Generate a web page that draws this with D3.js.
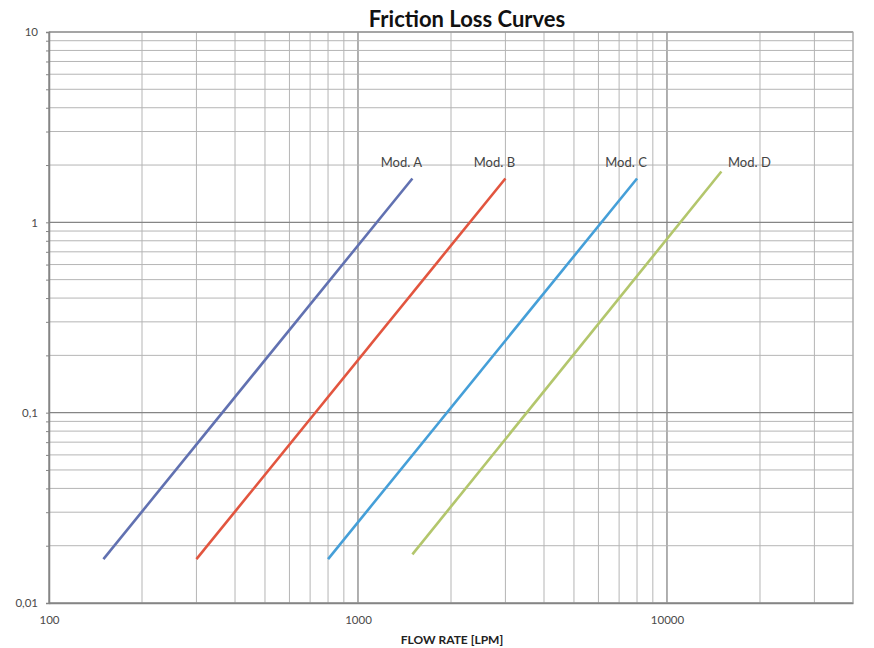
<!DOCTYPE html>
<html lang="en">
	<head>
		<meta charset="utf-8">
		<title>Friction Loss Curves</title>
		<script type="text/javascript" src="https://cdn.jsdelivr.net/npm/d3@7"></script>
		<style type="text/css">
			body{
				margin: 0;
				background: #ffffff;
			}
			text{
				font-family: Lato, "Open Sans", sans-serif;
			}
			.tick text{
				fill: #4a4a4a;
				font-size: 11.5px;
			}
		</style>
	</head>
	<body>
		<script type="text/javascript">

			//Chart data
			var models = ["Mod. A", "Mod. B", "Mod. C", "Mod. D"];
			var flowStart = [150, 300, 800, 1500];
			var flowEnd = [1500, 3000, 8000, 15000];
			var lossStart = [0.017, 0.017, 0.017, 0.018];
			var lossEnd = [1.7, 1.7, 1.7, 1.85];
			var colors = ["#6171b1", "#e2553f", "#459fd8", "#b3c66c"];

			var xDomain = [100, 40000];
			var yDomain = [0.01, 10];
			var xTicks = [100, 1000, 10000];
			var yTicks = [0.01, 0.1, 1, 10];
			var yTickLabels = ["0,01", "0,1", "1", "10"];

			//Width and height
			var w = 874;
			var h = 648;
			var pLeft = 49, pRight = 853, pTop = 32, pBottom = 603;

			var x = d3.scaleLog().domain(xDomain).range([pLeft, pRight]);
			var y = d3.scaleLog().domain(yDomain).range([pBottom, pTop]);

			//grid values: 1..9 in every decade inside the domain, plus the top end
			function gridValues(domain) {
				var vals = [];
				for (var e = 0; domain[0] * Math.pow(10, e) < domain[1]; e++) {
					var d = +(domain[0] * Math.pow(10, e)).toPrecision(6);
					for (var m = 1; m < 10; m++) {
						var v = +(d * m).toPrecision(6);
						if (v <= domain[1]) vals.push(v);
					}
				}
				if (vals.indexOf(domain[1]) < 0) vals.push(domain[1]);
				return vals;
			}
			var xGrid = gridValues(xDomain);
			var yGrid = gridValues(yDomain);

			var svg = d3.select("body")
						.append("svg")
						.attr("width", w)
						.attr("height", h);

			//vertical grid
			svg.append("g")
			   .selectAll("line")
			   .data(xGrid)
			   .enter()
			   .append("line")
			   .attr("x1", function(d) { return x(d); })
			   .attr("x2", function(d) { return x(d); })
			   .attr("y1", pTop)
			   .attr("y2", pBottom)
			   .attr("stroke", function(d) { return xTicks.indexOf(d) >= 0 ? "#858585" : "#b5b5b5"; })
			   .attr("stroke-width", function(d) { return xTicks.indexOf(d) >= 0 ? 1.3 : 1; });

			//horizontal grid
			svg.append("g")
			   .selectAll("line")
			   .data(yGrid)
			   .enter()
			   .append("line")
			   .attr("x1", pLeft)
			   .attr("x2", pRight)
			   .attr("y1", function(d) { return y(d); })
			   .attr("y2", function(d) { return y(d); })
			   .attr("stroke", function(d) { return yTicks.indexOf(d) >= 0 ? "#858585" : "#b5b5b5"; })
			   .attr("stroke-width", function(d) { return yTicks.indexOf(d) >= 0 ? 1.3 : 1; });

			//border on the right and top
			svg.append("rect")
			   .attr("x", pLeft)
			   .attr("y", pTop)
			   .attr("width", pRight - pLeft)
			   .attr("height", pBottom - pTop)
			   .attr("fill", "none")
			   .attr("stroke", "#a8a8a8")
			   .attr("stroke-width", 1);

			//y axis with minor ticks
			var yAxis = d3.axisLeft(y)
						  .tickValues(yGrid)
						  .tickSize(3)
						  .tickPadding(8)
						  .tickFormat(function(d) {
							  var i = yTicks.indexOf(d);
							  return i >= 0 ? yTickLabels[i] : "";
						  });
			var gy = svg.append("g")
			   .attr("transform", "translate(" + pLeft + ",0)")
			   .call(yAxis);
			gy.select(".domain").attr("stroke", "#858585").attr("stroke-width", 1.5);
			gy.selectAll(".tick line").attr("stroke", "#858585");

			//x axis
			var xAxis = d3.axisBottom(x)
						  .tickValues(xTicks)
						  .tickSize(0)
						  .tickPadding(13)
						  .tickFormat(d3.format("d"));
			var gx = svg.append("g")
			   .attr("transform", "translate(0," + pBottom + ")")
			   .call(xAxis);
			gx.select(".domain").attr("stroke", "#858585").attr("stroke-width", 1.5);

			//curves
			var line = d3.line()
						 .x(function(d) { return x(d[0]); })
						 .y(function(d) { return y(d[1]); });

			svg.append("g")
			   .selectAll("path")
			   .data(models)
			   .enter()
			   .append("path")
			   .attr("d", function(d, i) {
				   return line([[flowStart[i], lossStart[i]], [flowEnd[i], lossEnd[i]]]);
			   })
			   .attr("fill", "none")
			   .attr("stroke", function(d, i) { return colors[i]; })
			   .attr("stroke-width", 2.6);

			//curve labels at the upper end
			svg.append("g")
			   .selectAll("text")
			   .data(models)
			   .enter()
			   .append("text")
			   .attr("x", function(d, i) {
				   return i < 3 ? x(flowEnd[i]) - 11 : x(flowEnd[i]) + 28;
			   })
			   .attr("y", function(d, i) {
				   return i < 3 ? y(lossEnd[i]) - 11 : y(lossEnd[i]) - 4;
			   })
			   .attr("text-anchor", "middle")
			   .attr("font-size", "13px")
			   .attr("fill", "#444")
			   .text(function(d) { return d; });

			//title
			svg.append("text")
			   .attr("x", 467)
			   .attr("y", 27)
			   .attr("text-anchor", "middle")
			   .attr("font-size", "22px")
			   .attr("font-weight", "bold")
			   .attr("fill", "#111")
			   .text("Friction Loss Curves");

			//x axis title
			svg.append("text")
			   .attr("x", 452)
			   .attr("y", 644)
			   .attr("text-anchor", "middle")
			   .attr("font-size", "12px")
			   .attr("font-weight", "bold")
			   .attr("fill", "#222")
			   .text("FLOW RATE [LPM]");

		</script>
	</body>
</html>
